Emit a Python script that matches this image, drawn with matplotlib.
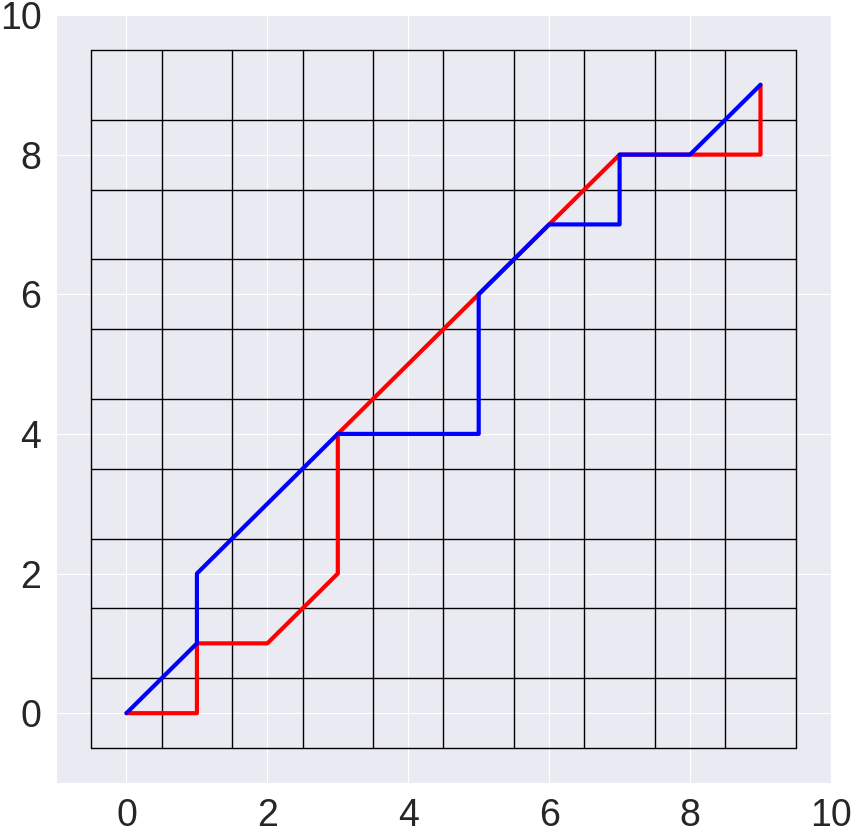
import numpy as np
import matplotlib
matplotlib.use("Agg")
import matplotlib.pyplot as plt
import seaborn as sns

sns.set_style("darkgrid")
plt.rcParams['font.family'] = ['Arial', 'Liberation Sans', 'DejaVu Sans']

# board cells
n_cells = 10

# two paths across the board
red_x = [0, 1, 1, 2, 3, 3, 4, 5, 6, 7, 8, 9, 9]
red_y = [0, 0, 1, 1, 2, 4, 5, 6, 7, 8, 8, 8, 9]
blue_x = [0, 1, 1, 2, 3, 4, 5, 5, 6, 7, 7, 8, 9]
blue_y = [0, 1, 2, 3, 4, 4, 4, 6, 7, 7, 8, 8, 9]

ticks = [0, 2, 4, 6, 8, 10]

fig = plt.figure(figsize=(8.54, 8.32), dpi=100)
ax = fig.add_axes([0.0656, 0.0589, 0.9074, 0.9231])

edges = np.arange(n_cells + 1) - 0.5
for e in edges:
    ax.plot([e, e], [edges[0], edges[-1]], color='black', lw=1.0)
    ax.plot([edges[0], edges[-1]], [e, e], color='black', lw=1.0)

ax.plot(red_x, red_y, color='red', lw=3)
ax.plot(blue_x, blue_y, color='blue', lw=3)

ax.set_xlim(-1, 10)
ax.set_ylim(-1, 10)
ax.set_xticks(ticks)
ax.set_yticks(ticks)
ax.tick_params(labelsize=27, pad=7)

plt.savefig("out.png", dpi=100)
